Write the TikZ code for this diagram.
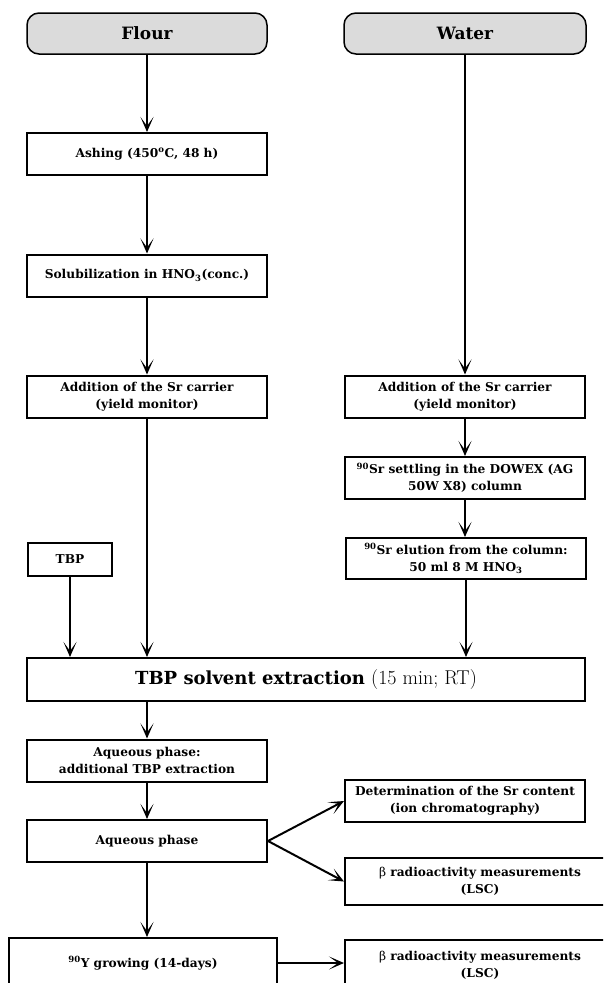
\documentclass[tikz,border=0pt]{standalone}
\usepackage{fontspec}
\newfontfamily\djs{DejaVu Serif}
\usetikzlibrary{arrows.meta}
\begin{document}
\begin{tikzpicture}[x=1pt,y=-1pt,
  stepbox/.style={draw, line width=2pt, minimum width=240pt, minimum height=42pt, align=center, inner sep=2pt, font=\djs\bfseries\fontsize{12.2}{17}\selectfont},
  srcbox/.style={draw, line width=1.5pt, rounded corners=12pt, fill=gray!28, minimum width=240pt, minimum height=41pt, font=\djs\bfseries\fontsize{17}{20}\selectfont},
  conn/.style={line width=2pt, -{Stealth[length=15pt,width=13pt,inset=9pt]}}]
\useasboundingbox (0,0) rectangle (603,983);
\clip (0,0) rectangle (603,983);
\node[srcbox] (flour) at (147,33.5) {Flour};
\node[srcbox, minimum width=242pt] (water) at (465,33.5) {Water};
\node[stepbox] (ash) at (147,154) {Ashing (450\textsuperscript{o}C, 48 h)};
\node[stepbox] (sol) at (147,275.5) {Solubilization in HNO\textsubscript{3}(conc.)};
\node[stepbox] (addL) at (147,396.5) {Addition of the Sr carrier\\(yield monitor)};
\node[stepbox] (addR) at (465,396.5) {Addition of the Sr carrier\\(yield monitor)};
\node[stepbox] (settle) at (465,478) {\textsuperscript{90}Sr settling in the DOWEX (AG\\50W X8) column};
\node[stepbox, minimum height=41pt] (elu) at (466,558.5) {\textsuperscript{90}Sr elution from the column:\\50 ml 8 M HNO\textsubscript{3}};
\node[stepbox, minimum width=84pt, minimum height=33pt] (tbp) at (70,559.5) {TBP};
\node[stepbox, minimum width=558pt, minimum height=43pt, font=\djs\bfseries\fontsize{18}{20}\selectfont] (solv) at (306,679.5) {TBP solvent extraction {\rmfamily\mdseries\fontsize{20}{20}\selectfont(15 min; RT)}};
\node[stepbox] (aq1) at (147,760.5) {Aqueous phase:\\additional TBP extraction};
\node[stepbox] (aq2) at (147,841) {Aqueous phase};
\node[stepbox] (det) at (465,801) {Determination of the Sr content\\(ion chromatography)};
\node[stepbox, minimum width=270pt, minimum height=47pt] (beta1) at (480,881.5) {{\mdseries β} radioactivity measurements\\(LSC)};
\node[stepbox, minimum width=268pt, minimum height=50pt] (y90) at (143,963) {\textsuperscript{90}Y growing (14-days)};
\node[stepbox, minimum width=270pt, minimum height=50pt] (beta2) at (480,965) {{\mdseries β} radioactivity measurements\\(LSC)};
\draw[conn] (flour) -- (ash);
\draw[conn] (ash) -- (sol);
\draw[conn] (sol) -- (addL);
\draw[conn] (water.south) -- (water.south |- addR.north);
\draw[conn] (addR) -- (settle);
\draw[conn] (settle.south) -- (settle.south |- elu.north);
\draw[conn] (addL.south) -- (addL.south |- solv.north);
\draw[conn] (tbp.south) -- (tbp.south |- solv.north);
\draw[conn] (elu.south) -- (elu.south |- solv.north);
\draw[conn] (aq1.north |- solv.south) -- (aq1.north);
\draw[conn] (aq1) -- (aq1 |- aq2.north);
\draw[conn] (aq2.east) -- (det.west);
\draw[conn] (aq2.east) -- (beta1.west);
\draw[conn] (aq2.south) -- (aq2.south |- y90.north);
\draw[conn] (y90.east) -- (beta2.west |- y90.east);
\end{tikzpicture}
\end{document}
